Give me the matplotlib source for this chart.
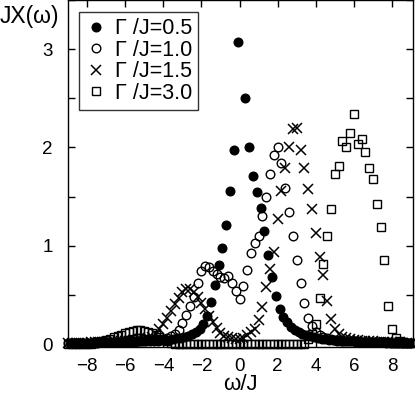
import numpy as np
import matplotlib.pyplot as plt
from matplotlib.ticker import MultipleLocator

plt.rcParams['font.family'] = ['Liberation Sans', 'DejaVu Sans']

# frequency grids (omega/J)
w_odd = np.round(np.arange(-8.9, 8.95, 0.2), 1)
w_even = np.round(np.arange(-9.0, 9.05, 0.2), 1)

# Gamma/J = 0.5 (filled circles), on the odd grid; point at 0.1 is off the top
chi_05 = [0.012, 0.012, 0.013, 0.013, 0.014, 0.014, 0.015, 0.015, 0.016, 0.017,
          0.017, 0.018, 0.019, 0.020, 0.021, 0.022, 0.023, 0.024, 0.026, 0.027,
          0.029, 0.031, 0.033, 0.036, 0.039, 0.042, 0.046, 0.051, 0.057, 0.064,
          0.073, 0.085, 0.10, 0.12, 0.15, 0.20, 0.29, 0.43, 0.60, 0.80,
          0.98, 1.21, 1.56, 1.97, 3.07, np.nan, 2.50, 2.00, 1.71, 1.55,
          1.38, 1.15, 0.91, 0.68, 0.49, 0.36, 0.28, 0.22, 0.17, 0.14,
          0.12, 0.10, 0.087, 0.077, 0.068, 0.060, 0.054, 0.048, 0.043, 0.039,
          0.036, 0.033, 0.030, 0.028, 0.026, 0.024, 0.022, 0.021, 0.020, 0.019,
          0.018, 0.017, 0.016, 0.015, 0.015, 0.014, 0.013, 0.013, 0.012, 0.012]

# Gamma/J = 1.0 (open circles)
chi_10 = [0.010, 0.010, 0.011, 0.012, 0.013, 0.014, 0.015, 0.016, 0.017, 0.018,
          0.019, 0.020, 0.021, 0.022, 0.024, 0.025, 0.027, 0.029, 0.031, 0.033,
          0.036, 0.039, 0.042, 0.046, 0.050, 0.055, 0.065, 0.08, 0.10, 0.14,
          0.21, 0.30, 0.39, 0.48, 0.62, 0.74, 0.79, 0.78, 0.74, 0.71,
          0.68, 0.67, 0.69, 0.62, 0.54, 0.46, 0.59, 0.75, 0.93, 1.03,
          1.10, 1.30, 1.50, 1.73, 1.92, 2.00, 1.84, 1.59, 1.34, 1.10,
          0.86, 0.62, 0.42, 0.27, 0.18, 0.12, 0.09, 0.07, 0.06, 0.05,
          0.045, 0.040, 0.036, 0.033, 0.030, 0.028, 0.026, 0.024, 0.022, 0.021,
          0.020, 0.019, 0.018, 0.017, 0.016, 0.015, 0.014, 0.013, 0.012, 0.011,
          0.010]

# Gamma/J = 1.5 (crosses)
chi_15 = [0.010, 0.011, 0.012, 0.013, 0.014, 0.015, 0.016, 0.017, 0.018, 0.020,
          0.021, 0.023, 0.025, 0.027, 0.029, 0.032, 0.035, 0.038, 0.042, 0.047,
          0.053, 0.062, 0.075, 0.10, 0.15, 0.20, 0.27, 0.34, 0.41, 0.47,
          0.53, 0.56, 0.56, 0.53, 0.48, 0.42, 0.36, 0.29, 0.22, 0.16,
          0.11, 0.085, 0.07, 0.06, 0.055, 0.055, 0.065, 0.09, 0.12, 0.15,
          0.24, 0.38, 0.58, 0.76, 0.94, 1.27, 1.56, 1.79, 2.00, 2.19,
          2.20, 1.97, 1.79, 1.58, 1.37, 1.13, 0.89, 0.70, 0.44, 0.25,
          0.15, 0.10, 0.075, 0.06, 0.05, 0.044, 0.039, 0.035, 0.031, 0.028,
          0.026, 0.024, 0.022, 0.020, 0.019, 0.018, 0.017, 0.016, 0.015, 0.014,
          0.013]

# Gamma/J = 3.0 (squares)
chi_30 = [0.0, 0.0, 0.0, 0.0, 0.0, 0.0, 0.005, 0.01, 0.02, 0.03,
          0.045, 0.055, 0.068, 0.08, 0.095, 0.11, 0.125, 0.135, 0.14, 0.14,
          0.135, 0.125, 0.11, 0.095, 0.07, 0.05, 0.03, 0.015, 0.005, 0.0,
          0.0, 0.0, 0.0, 0.0, 0.0, 0.0, 0.0, 0.0, 0.0, 0.0,
          0.0, 0.0, 0.0, 0.0, 0.0, 0.0, 0.0, 0.0, 0.0, 0.0,
          0.0, 0.0, 0.0, 0.0, 0.0, 0.0, 0.0, 0.0, 0.0, 0.0,
          0.0, 0.0, 0.0, 0.05, 0.10, 0.20, 0.47, 0.81, 1.10, 1.37,
          1.73, 1.81, 2.07, 2.00, 2.15, 2.34, 2.04, 2.09, 1.95, 1.79,
          1.68, 1.42, 1.19, 0.86, 0.39, 0.15, 0.06, 0.03, 0.02, 0.015,
          0.010]

labels = ['\u0393 /J=0.5', '\u0393 /J=1.0', '\u0393 /J=1.5', '\u0393 /J=3.0']

fig = plt.figure(figsize=(4.15, 3.94), dpi=100)
ax = fig.add_axes([68/415, 1 - 347/394, 345/415, 347/394])

ax.plot(w_odd, chi_05, 'o', color='black', ms=6.2, mec='black', clip_on=False, label=labels[0])
ax.plot(w_even, chi_10, 'o', ms=6.2, mfc='none', mec='black', mew=1.0, clip_on=False, label=labels[1])
ax.plot(w_even, chi_15, 'x', ms=6.5, color='black', mew=1.1, clip_on=False, label=labels[2])
ax.plot(w_even, chi_30, 's', ms=5.8, mfc='none', mec='black', mew=1.0, clip_on=False, label=labels[3])

ax.set_xlim(-9, 9.1)
ax.set_ylim(-0.03, 3.5)
ax.xaxis.set_major_locator(MultipleLocator(2))
ax.yaxis.set_major_locator(MultipleLocator(1))
ax.yaxis.set_minor_locator(MultipleLocator(0.5))
ax.tick_params(which='both', direction='in', top=True, right=True,
               length=5, width=1, labelsize=13.5)
ax.tick_params(axis='y', pad=11)
ax.tick_params(axis='x', pad=8)
for s in ax.spines.values():
    s.set_linewidth(1)

ax.set_xlabel('\u03c9/J', fontsize=16, labelpad=-1)
fig.text(0.0, 1 - 16/394, 'JX(\u03c9)', fontsize=16.5, ha='left', va='center')

leg = ax.legend(loc='upper left', bbox_to_anchor=(11/345, 1 - 12/347),
                borderaxespad=0, fontsize=15.5, frameon=True, fancybox=False,
                edgecolor='black', handlelength=1.0, handletextpad=0.35,
                borderpad=0.3, labelspacing=0.02, numpoints=1)
leg.get_frame().set_linewidth(1)

fig.savefig('out.png', dpi=100)
